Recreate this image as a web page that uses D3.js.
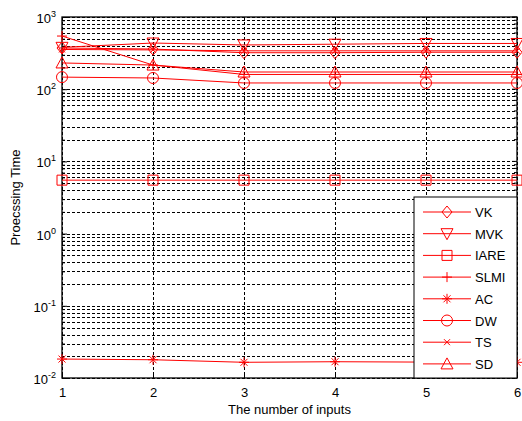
<!DOCTYPE html>
<html>
<head>
<meta charset="utf-8">
<script src="https://cdn.jsdelivr.net/npm/d3@7"></script>
<style>
  body { margin: 0; background: #fff; }
  text { font-family: "Liberation Sans", Arial, sans-serif; }
</style>
</head>
<body>
<div id="chart"></div>
<script>
// data
var inputs = [1, 2, 3, 4, 5, 6];
var seriesNames = ["VK", "MVK", "IARE", "SLMI", "AC", "DW", "TS", "SD"];
var markers = ["diamond", "down", "square", "plus", "star", "circle", "cross", "up"];
var vk   = [372, 360, 320, 320, 325, 325];
var mvk  = [380, 436, 410, 420, 430, 430];
var iare = [5.5, 5.5, 5.5, 5.5, 5.5, 5.5];
var slmi = [545, 216, 160, 160, 160, 160];
var ac   = [0.0183, 0.0179, 0.0165, 0.0168, 0.0166, 0.0165];
var dw   = [147, 143, 122, 122, 122, 122];
var ts   = [355, 350, 340, 340, 340, 340];
var sd   = [231, 216, 173, 173, 173, 173];
var yTickExps = [-2, -1, 0, 1, 2, 3];
var allSeries = [vk, mvk, iare, slmi, ac, dw, ts, sd];

var W = 522, H = 421;
var margin = { top: 17, right: 5, bottom: 43, left: 62 };
var width = W - margin.left - margin.right, height = H - margin.top - margin.bottom;

var svg = d3.select("#chart").append("svg")
  .attr("width", W).attr("height", H);
var g = svg.append("g")
  .attr("transform", "translate(" + margin.left + "," + margin.top + ")");

var x = d3.scaleLinear().domain([1, 6]).range([0, width]);
var y = d3.scaleLog().domain([0.01, 1000]).range([height, 0]);

// grid lines
var minor = [];
for (var e = -2; e < 3; e++) {
  for (var m = 1; m <= 9; m++) minor.push(m * Math.pow(10, e));
}
minor.push(1000);
g.append("g").selectAll("line").data(minor).enter().append("line")
  .attr("x1", 0).attr("x2", width)
  .attr("y1", function(d) { return Math.round(y(d)) + 0.5; })
  .attr("y2", function(d) { return Math.round(y(d)) + 0.5; })
  .attr("stroke", "#000").attr("stroke-dasharray", "3,2").attr("stroke-width", 1);
g.append("g").selectAll("line").data(inputs).enter().append("line")
  .attr("x1", function(d) { return Math.round(x(d)) + 0.5; })
  .attr("x2", function(d) { return Math.round(x(d)) + 0.5; })
  .attr("y1", 0).attr("y2", height)
  .attr("stroke", "#000").attr("stroke-dasharray", "3,2").attr("stroke-width", 1);

// axes
var xAxis = g.append("g").attr("transform", "translate(0," + height + ")")
  .call(d3.axisBottom(x).tickValues(inputs).tickFormat(d3.format("d")).tickSizeInner(-5).tickSizeOuter(0));
xAxis.selectAll("text").attr("dy", "1.2em").style("font-size", "13px");
xAxis.select(".domain").remove();

var yAxis = g.append("g")
  .call(d3.axisLeft(y).tickValues(minor).tickFormat("").tickSizeInner(-5).tickSizeOuter(0));
yAxis.selectAll(".tick line").attr("stroke-width", function(d) { return 1; })
  .attr("x2", function(d) { return yTickExps.indexOf(Math.round(Math.log10(d))) >= 0 && Math.abs(Math.log10(d) - Math.round(Math.log10(d))) < 1e-9 ? 5 : 3; });
yAxis.select(".domain").remove();

// right side ticks
g.append("g").selectAll("line").data(minor).enter().append("line")
  .attr("x1", width).attr("y1", function(d) { return y(d); }).attr("y2", function(d) { return y(d); })
  .attr("x2", function(d) { return Math.abs(Math.log10(d) - Math.round(Math.log10(d))) < 1e-9 ? width - 5 : width - 3; })
  .attr("stroke", "#000");

// y tick labels with superscript
var lab = g.append("g").selectAll("text").data(yTickExps).enter().append("text")
  .attr("x", -6).attr("y", function(d) { return y(Math.pow(10, d)) + 6; })
  .attr("text-anchor", "end").style("font-size", "13px");
lab.append("tspan").text("10");
lab.append("tspan").attr("dy", -6).style("font-size", "9px").text(function(d) { return d; });

// plot box
g.append("rect").attr("x", 0).attr("y", 0).attr("width", width).attr("height", height)
  .attr("fill", "none").attr("stroke", "#000").attr("stroke-width", 1.3);

// labels
svg.append("text").attr("x", margin.left + width / 2).attr("y", 414)
  .attr("text-anchor", "middle").style("font-size", "13px").text("The number of inputs");
svg.append("text").attr("transform", "translate(20," + (margin.top + height / 2) + ") rotate(-90)")
  .attr("text-anchor", "middle").style("font-size", "13px").text("Proecssing Time");

var red = "#ff0000";
function drawMarker(sel, type) {
  var s = 5;
  if (type === "diamond") sel.append("path").attr("d", "M0,-6L5,0L0,6L-5,0Z");
  else if (type === "down") sel.append("path").attr("d", "M-6,-5L6,-5L0,6Z");
  else if (type === "up") sel.append("path").attr("d", "M-6,5L6,5L0,-6Z");
  else if (type === "square") sel.append("path").attr("d", "M-5,-5H5V5H-5Z");
  else if (type === "circle") sel.append("circle").attr("r", 5.5);
  else if (type === "plus") sel.append("path").attr("d", "M-5,0H5M0,-5V5");
  else if (type === "cross") sel.append("path").attr("d", "M-3,-3L3,3M-3,3L3,-3");
  else if (type === "star") sel.append("path").attr("d", "M-5,0H5M0,-5V5M-3.5,-3.5L3.5,3.5M-3.5,3.5L3.5,-3.5");
  sel.selectAll("path,circle").attr("fill", "none").attr("stroke", red).attr("stroke-width", 1);
}

var line = d3.line().x(function(d, i) { return x(inputs[i]); }).y(function(d) { return y(d); });
allSeries.forEach(function(vals, k) {
  g.append("path").datum(vals).attr("d", line)
    .attr("fill", "none").attr("stroke", red).attr("stroke-width", 1);
  vals.forEach(function(v, i) {
    var mg = g.append("g").attr("transform", "translate(" + x(inputs[i]) + "," + y(v) + ")");
    drawMarker(mg, markers[k]);
  });
});

// legend
var lx = 414 - margin.left, ly = 197 - margin.top, lw = width - lx, lh = height - ly;
var leg = g.append("g");
leg.append("rect").attr("x", lx).attr("y", ly).attr("width", lw).attr("height", lh)
  .attr("fill", "#fff").attr("stroke", "#000").attr("stroke-width", 1);
seriesNames.forEach(function(name, k) {
  var yy = ly + 15 + k * 21.7;
  leg.append("line").attr("x1", lx + 9).attr("x2", lx + 57).attr("y1", yy).attr("y2", yy)
    .attr("stroke", red).attr("stroke-width", 1);
  var mg = leg.append("g").attr("transform", "translate(" + (lx + 33) + "," + yy + ")");
  drawMarker(mg, markers[k]);
  leg.append("text").attr("x", lx + 61).attr("y", yy + 5).style("font-size", "13px").text(name);
});
</script>
</body>
</html>
